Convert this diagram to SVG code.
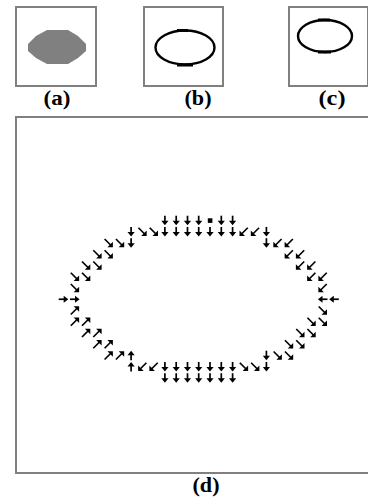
<svg xmlns="http://www.w3.org/2000/svg" xmlns:xlink="http://www.w3.org/1999/xlink" width="368" height="504" viewBox="0 0 368 504">
<style>
.box{fill:none;stroke:#808080;stroke-width:2}
.lbl{font-family:"Liberation Serif","Times New Roman",serif;font-weight:bold;font-size:20px;fill:#000;text-anchor:middle}
.ring{fill:none;stroke:#000;stroke-width:2.4}
</style>
<defs>
<g id="dn"><path d="M0,-4.8V1.5" stroke="#000" stroke-width="1.7"/><path d="M-3.6,0.2H3.6L0,4.8Z" fill="#000"/></g>
<g id="dg"><path d="M-4,-4L2,2" stroke="#000" stroke-width="1.7"/><path d="M4.3,4.3L4.3,-1.2L-1.2,4.3Z" fill="#000"/></g>
</defs>
<rect width="368" height="504" fill="#fff"/>
<g id="panel-a">
<rect class="box" x="16" y="7" width="80" height="79"/>
<polygon points="47,30 68,30 78,36 86,44 86,51 78,58 68,64 47,64 36,58 28,51 28,44 36,36" fill="#808080"/>
<text class="lbl" x="57" y="105" textLength="27" lengthAdjust="spacingAndGlyphs">(a)</text>
</g>
<g id="panel-b">
<rect class="box" x="144" y="7" width="79" height="79"/>
<ellipse class="ring" cx="185" cy="47.5" rx="29.5" ry="17"/>
<rect x="177" y="29" width="11" height="3"/>
<rect x="177" y="63.5" width="16" height="3"/>
<text class="lbl" x="198" y="105" textLength="27" lengthAdjust="spacingAndGlyphs">(b)</text>
</g>
<g id="panel-c">
<rect class="box" x="289" y="7" width="79" height="79"/>
<ellipse class="ring" cx="325" cy="36" rx="27" ry="16"/>
<rect x="318" y="18.5" width="12" height="3"/>
<rect x="318" y="50.5" width="13" height="3"/>
<text class="lbl" x="332" y="105" textLength="27" lengthAdjust="spacingAndGlyphs">(c)</text>
</g>
<g id="panel-d">
<rect class="box" x="16" y="117" width="380" height="356"/>
<text class="lbl" x="206" y="492" textLength="27" lengthAdjust="spacingAndGlyphs">(d)</text>
</g>
<g id="connectors">
<use xlink:href="#dn" transform="translate(164.9,220.5)"/>
<use xlink:href="#dn" transform="translate(176.2,220.5)"/>
<use xlink:href="#dn" transform="translate(187.5,220.5)"/>
<use xlink:href="#dn" transform="translate(198.7,220.5)"/>
<rect x="207.8" y="218.3" width="4.6" height="4.6" fill="#000"/>
<use xlink:href="#dn" transform="translate(221.3,220.5)"/>
<use xlink:href="#dn" transform="translate(232.6,220.5)"/>
<use xlink:href="#dn" transform="translate(131.1,231.75)"/>
<use xlink:href="#dg" transform="translate(142.4,231.75)"/>
<use xlink:href="#dg" transform="translate(153.7,231.75)"/>
<use xlink:href="#dn" transform="translate(164.9,231.75)"/>
<use xlink:href="#dn" transform="translate(176.2,231.75)"/>
<use xlink:href="#dn" transform="translate(187.5,231.75)"/>
<use xlink:href="#dn" transform="translate(198.7,231.75)"/>
<use xlink:href="#dn" transform="translate(210,231.75)"/>
<use xlink:href="#dn" transform="translate(221.3,231.75)"/>
<use xlink:href="#dn" transform="translate(232.6,231.75)"/>
<use xlink:href="#dg" transform="translate(243.8,231.75) rotate(90)"/>
<use xlink:href="#dg" transform="translate(255.1,231.75) rotate(90)"/>
<use xlink:href="#dn" transform="translate(266.4,231.75)"/>
<use xlink:href="#dg" transform="translate(108.6,243)"/>
<use xlink:href="#dg" transform="translate(119.9,243)"/>
<use xlink:href="#dn" transform="translate(131.1,243)"/>
<use xlink:href="#dn" transform="translate(266.4,243)"/>
<use xlink:href="#dg" transform="translate(277.6,243) rotate(90)"/>
<use xlink:href="#dg" transform="translate(288.9,243) rotate(90)"/>
<use xlink:href="#dg" transform="translate(97.3,254.25)"/>
<use xlink:href="#dg" transform="translate(108.6,254.25)"/>
<use xlink:href="#dg" transform="translate(288.9,254.25) rotate(90)"/>
<use xlink:href="#dg" transform="translate(300.2,254.25) rotate(90)"/>
<use xlink:href="#dg" transform="translate(86,265.5)"/>
<use xlink:href="#dg" transform="translate(97.3,265.5)"/>
<use xlink:href="#dg" transform="translate(300.2,265.5) rotate(90)"/>
<use xlink:href="#dg" transform="translate(311.4,265.5) rotate(90)"/>
<use xlink:href="#dg" transform="translate(74.8,276.75)"/>
<use xlink:href="#dg" transform="translate(86,276.75)"/>
<use xlink:href="#dg" transform="translate(311.4,276.75) rotate(90)"/>
<use xlink:href="#dg" transform="translate(322.7,276.75) rotate(90)"/>
<use xlink:href="#dg" transform="translate(74.8,288)"/>
<use xlink:href="#dg" transform="translate(322.7,288) rotate(90)"/>
<use xlink:href="#dn" transform="translate(63.5,299.25) rotate(-90)"/>
<use xlink:href="#dn" transform="translate(74.8,299.25) rotate(-90)"/>
<use xlink:href="#dn" transform="translate(322.7,299.25) rotate(90)"/>
<use xlink:href="#dn" transform="translate(334,299.25) rotate(90)"/>
<use xlink:href="#dg" transform="translate(74.8,310.5) rotate(-90)"/>
<use xlink:href="#dg" transform="translate(322.7,310.5)"/>
<use xlink:href="#dg" transform="translate(74.8,321.75) rotate(-90)"/>
<use xlink:href="#dg" transform="translate(86,321.75) rotate(-90)"/>
<use xlink:href="#dg" transform="translate(311.4,321.75)"/>
<use xlink:href="#dg" transform="translate(322.7,321.75)"/>
<use xlink:href="#dg" transform="translate(86,333) rotate(-90)"/>
<use xlink:href="#dg" transform="translate(97.3,333) rotate(-90)"/>
<use xlink:href="#dg" transform="translate(300.2,333)"/>
<use xlink:href="#dg" transform="translate(311.4,333)"/>
<use xlink:href="#dg" transform="translate(97.3,344.25) rotate(-90)"/>
<use xlink:href="#dg" transform="translate(108.6,344.25) rotate(-90)"/>
<use xlink:href="#dg" transform="translate(288.9,344.25)"/>
<use xlink:href="#dg" transform="translate(300.2,344.25)"/>
<use xlink:href="#dg" transform="translate(108.6,355.5) rotate(-90)"/>
<use xlink:href="#dg" transform="translate(119.9,355.5) rotate(-90)"/>
<use xlink:href="#dn" transform="translate(131.1,355.5) rotate(180)"/>
<use xlink:href="#dn" transform="translate(266.4,355.5)"/>
<use xlink:href="#dg" transform="translate(277.6,355.5)"/>
<use xlink:href="#dg" transform="translate(288.9,355.5)"/>
<use xlink:href="#dn" transform="translate(131.1,366.75) rotate(180)"/>
<use xlink:href="#dg" transform="translate(142.4,366.75) rotate(90)"/>
<use xlink:href="#dg" transform="translate(153.7,366.75) rotate(90)"/>
<use xlink:href="#dn" transform="translate(164.9,366.75)"/>
<use xlink:href="#dn" transform="translate(176.2,366.75)"/>
<use xlink:href="#dn" transform="translate(187.5,366.75)"/>
<use xlink:href="#dn" transform="translate(198.7,366.75)"/>
<use xlink:href="#dn" transform="translate(210,366.75)"/>
<use xlink:href="#dn" transform="translate(221.3,366.75)"/>
<use xlink:href="#dn" transform="translate(232.6,366.75)"/>
<use xlink:href="#dg" transform="translate(243.8,366.75)"/>
<use xlink:href="#dg" transform="translate(255.1,366.75)"/>
<use xlink:href="#dn" transform="translate(266.4,366.75)"/>
<use xlink:href="#dn" transform="translate(164.9,378)"/>
<use xlink:href="#dn" transform="translate(176.2,378)"/>
<use xlink:href="#dn" transform="translate(187.5,378)"/>
<use xlink:href="#dn" transform="translate(198.7,378)"/>
<use xlink:href="#dn" transform="translate(210,378)"/>
<use xlink:href="#dn" transform="translate(221.3,378)"/>
<use xlink:href="#dn" transform="translate(232.6,378)"/>
</g>
</svg>
